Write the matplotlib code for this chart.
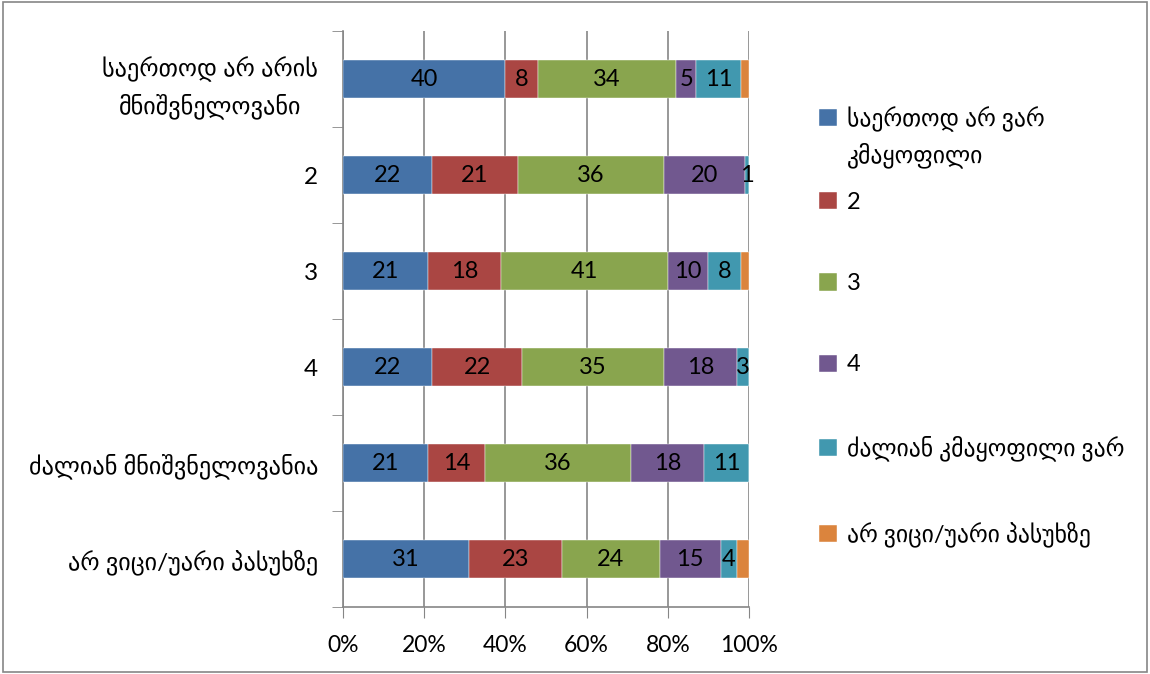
import numpy as np
import matplotlib.pyplot as plt
from matplotlib.patches import Rectangle

plt.rcParams['font.family'] = ['Lato', 'DejaVu Sans']

##############################################################################
# Data (percent), categories listed top to bottom
categories = ['საერთოდ არ არის\nმნიშვნელოვანი', '2', '3', '4',
              'ძალიან მნიშვნელოვანია', 'არ ვიცი/უარი პასუხზე']
series_names = ['საერთოდ არ ვარ', '2', '3', '4',
                'ძალიან კმაყოფილი ვარ', 'არ ვიცი/უარი პასუხზე']
first_name_cont = 'კმაყოფილი'  # second line of the first legend label
s1 = [40, 22, 21, 22, 21, 31]
s2 = [8, 21, 18, 22, 14, 23]
s3 = [34, 36, 41, 35, 36, 24]
s4 = [5, 20, 10, 18, 18, 15]
s5 = [11, 1, 8, 3, 11, 4]
s6 = [2, 0, 2, 0, 0, 3]
series = [s1, s2, s3, s4, s5, s6]
colors = ['#4572A7', '#AA4643', '#89A54E', '#71588F', '#4198AF', '#DB843D']
show_labels = [True, True, True, True, True, False]

##############################################################################
fig = plt.figure(figsize=(11.5, 6.74), dpi=100)
ax = fig.add_axes([0.2983, 0.0994, 0.3530, 0.8546])

y = np.arange(len(categories))[::-1]
left = np.zeros(len(categories))
for name, vals, c, lab in zip(series_names, series, colors, show_labels):
    vals = np.array(vals, dtype=float)
    bars = ax.barh(y, vals, left=left, height=0.4, color=c, label=name,
                   edgecolor='white', linewidth=0.3, zorder=3)
    if lab:
        for b, v in zip(bars, vals):
            if v > 0:
                ax.text(b.get_x() + b.get_width() / 2, b.get_y() + b.get_height() / 2,
                        '%d' % v, ha='center', va='center', fontsize=17,
                        color='black', zorder=4)
    left += vals

ax.set_xlim(0, 100)
ax.set_ylim(-0.5, len(categories) - 0.5)
ax.set_xticks(np.arange(0, 101, 20))
ax.set_xticklabels(['%d%%' % v for v in range(0, 101, 20)], fontsize=16.5)
ax.set_yticks(y)
ax.set_yticklabels(categories, fontsize=17.5, multialignment='center', linespacing=1.6)
ax.set_yticks(np.arange(-0.5, len(categories), 1), minor=True)
ax.tick_params(axis='y', which='major', length=0, pad=18)
ax.tick_params(axis='y', which='minor', length=8, color='#868686', direction='out')
ax.tick_params(axis='x', length=8, color='#868686', direction='out', pad=12)
ax.grid(axis='x', color='#868686', linewidth=1.2, zorder=0)

for s in ['top', 'right']:
    ax.spines[s].set_visible(False)
for s in ['left', 'bottom']:
    ax.spines[s].set_color('#868686')
    ax.spines[s].set_linewidth(1.2)

leg = fig.legend(loc='upper left', bbox_to_anchor=(0.694, 0.874), frameon=False,
                 fontsize=17, handlelength=0.75, handleheight=0.75,
                 handletextpad=0.4, labelspacing=2.55)

# second line of the first legend label, hanging under the first line
fig.canvas.draw()
bb = leg.get_texts()[0].get_window_extent().transformed(fig.transFigure.inverted())
fig.text(bb.x0, bb.y0 - 0.015, first_name_cont, fontsize=17, ha='left', va='top')

# outer border
fig.patches.append(Rectangle((0.003, 0.003), 0.994, 0.994, transform=fig.transFigure,
                             fill=False, edgecolor='#868686', linewidth=1.2))

fig.savefig('out.png', dpi=100)
